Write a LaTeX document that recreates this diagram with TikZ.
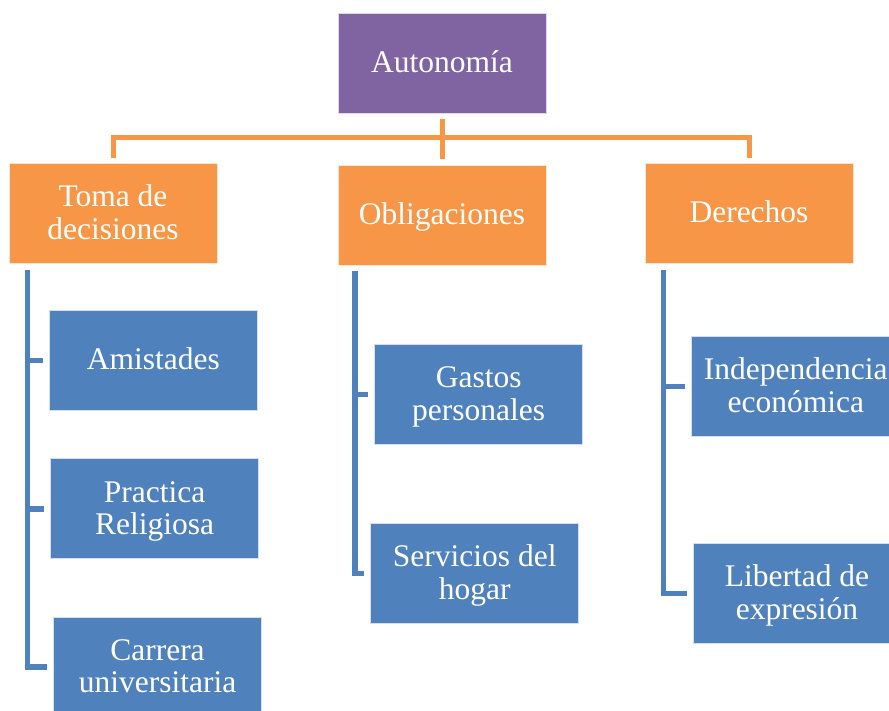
\documentclass[tikz,border=0pt]{standalone}
\usepackage{fontspec}
\setmainfont{Liberation Serif}
\usetikzlibrary{calc}
\definecolor{cpurple}{HTML}{8064A2}
\definecolor{corange}{HTML}{F79646}
\definecolor{cblue}{HTML}{4F81BD}
\newcommand\bxt[1]{\rule{0pt}{26pt}#1\rule[-7pt]{0pt}{7pt}}
\tikzset{
  box/.style={rectangle, draw=white!75!#1, line width=0.8pt, fill=#1, text=white,
    minimum width=208pt, minimum height=100pt, inner sep=0pt, align=center,
    font=\fontsize{31.5}{32.5}\selectfont},
  orangeline/.style={draw=corange, line width=5pt, line join=miter},
  blueline/.style={draw=cblue, line width=5.5pt, line join=miter}
}
\begin{document}
\begin{tikzpicture}[x=1pt,y=-1pt]
\useasboundingbox (0,0) rectangle (889,711);
\clip (0,0) rectangle (889,711);
% top level
\node[box=cpurple] (auto) at (442,63) {\bxt{Autonomía}};
% second level
\node[box=corange] (toma) at (113,213.5) {\bxt{Toma de\\decisiones}};
\node[box=corange] (oblig) at (442,215) {\bxt{Obligaciones}};
\node[box=corange] (der) at (749,213.5) {\bxt{Derechos}};
% third level
\node[box=cblue] (amist) at (153.3,360.3) {\bxt{Amistades}};
\node[box=cblue] (pract) at (154.7,508.8) {\bxt{Practica\\Religiosa}};
\node[box=cblue] (carr) at (157.5,667) {\bxt{Carrera\\universitaria}};
\node[box=cblue] (gastos) at (478.7,394.7) {\bxt{Gastos\\personales}};
\node[box=cblue] (serv) at (474.7,573.7) {\bxt{Servicios del\\hogar}};
\node[box=cblue] (indep) at (795.8,386.7) {\bxt{Independencia\\económica}};
\node[box=cblue] (libert) at (797,593.7) {\bxt{Libertad de\\expresión}};
% orange connectors
\coordinate (bus) at (442,138);
\draw[orangeline] ($(auto.south)+(0,6)$) -- ($(oblig.north)+(0,-6)$);
\draw[orangeline] ($(toma.north)+(0,-5)$) |- (bus) -| ($(der.north)+(0,-5)$);
% blue connectors: left
\coordinate (s1) at ($(toma.south west)+(19,6)$);
\draw[blueline] (s1) |- ($(carr.west)+(-6,0)$);
\draw[blueline] (s1 |- amist.west) -- ($(amist.west)+(-6,0)$);
\draw[blueline] (s1 |- pract.west) -- ($(pract.west)+(-6,0)$);
% middle
\coordinate (s2) at ($(oblig.south west)+(17.5,6)$);
\draw[blueline] (s2) |- ($(serv.west)+(-6,0)$);
\draw[blueline] (s2 |- gastos.west) -- ($(gastos.west)+(-6,0)$);
% right
\coordinate (s3) at ($(der.south west)+(19,6)$);
\draw[blueline] (s3) |- ($(libert.west)+(-6,0)$);
\draw[blueline] (s3 |- indep.west) -- ($(indep.west)+(-6,0)$);
\end{tikzpicture}
\end{document}
